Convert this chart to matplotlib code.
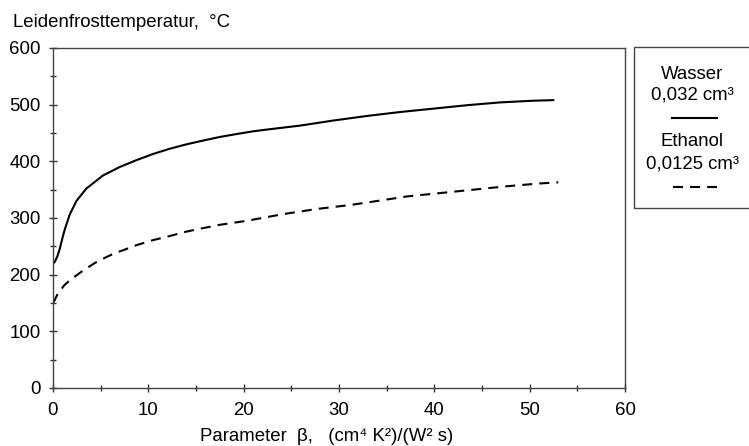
import matplotlib
matplotlib.use("Agg")
import matplotlib.pyplot as plt
from matplotlib.patches import Rectangle
from matplotlib.lines import Line2D
from matplotlib.ticker import MultipleLocator

plt.rcParams['font.family'] = ['Liberation Sans', 'DejaVu Sans']

# Data
wasser_x = [0.05, 0.2, 0.45, 0.7, 0.95, 1.22, 1.75, 2.45, 3.5, 5.24, 7.0, 8.74, 10.5, 12.2,
            14.0, 15.7, 17.5, 19.2, 21.0, 22.4, 25.9, 29.4, 32.9, 36.4, 39.9,
            43.4, 46.9, 50.4, 52.5]
wasser_y = [220, 223, 232, 245, 262, 279, 306, 330, 352, 375, 390, 402, 413, 422,
            430, 436.5, 443, 448, 453, 456, 463, 472, 480, 487, 493,
            499, 504, 507, 508]

ethanol_x = [0.0, 0.17, 0.52, 1.22, 1.92, 2.97, 3.67, 4.72, 5.6, 6.47, 7.34, 8.74,
             10.5, 12.2, 14.0, 15.7, 17.5, 20.3, 24.2, 27.7, 31.2, 33.6, 37.1,
             40.6, 44.1, 47.6, 51.1, 53.0]
ethanol_y = [150, 155, 167, 182, 192, 205, 213, 224, 231, 238, 243, 252,
             261, 268, 276, 282, 288, 295, 307, 316, 323, 329, 338,
             344, 350, 356, 361, 363]

x_ticks = [0, 10, 20, 30, 40, 50, 60]
y_ticks = [0, 100, 200, 300, 400, 500, 600]

y_title = "Leidenfrosttemperatur,  °C"
x_title = "Parameter  β,   (cm⁴ K²)/(W² s)"
legend_lines = [("Wasser", "0,032 cm³", "-"), ("Ethanol", "0,0125 cm³", "--")]

W, H = 749, 446
FS = 13.4
fig = plt.figure(figsize=(W / 100, H / 100), dpi=100)
ax = fig.add_axes([53 / W, 1 - 388 / H, (625 - 53) / W, (388 - 48) / H])

ax.plot(wasser_x, wasser_y, color='black', lw=1.5, solid_capstyle='round',
        solid_joinstyle='round')
ax.plot(ethanol_x, ethanol_y, color='black', lw=1.5, linestyle=(0, (4.8, 3.4)),
        dash_joinstyle='round')

ax.set_xlim(0, 60)
ax.set_ylim(0, 600)
ax.set_xticks(x_ticks)
ax.set_yticks(y_ticks)
ax.xaxis.set_minor_locator(MultipleLocator(5))
ax.yaxis.set_minor_locator(MultipleLocator(50))
ax.tick_params(which='major', direction='inout', length=6, width=1, color='#333333',
               labelsize=FS, pad=6)
ax.tick_params(which='minor', direction='inout', length=4.3, width=1, color='#333333')
ax.tick_params(axis='x', pad=7)
for s in ax.spines.values():
    s.set_color('#444444')
    s.set_linewidth(1)

fig.text(12.7 / W, 1 - 27 / H, y_title, fontsize=FS, ha='left', va='baseline')
fig.text(327 / W, 1 - 441 / H, x_title, fontsize=FS, ha='center', va='baseline')

# Legend box
fig.patches.append(Rectangle((634 / W, 1 - 208 / H), (770 - 634) / W, (208 - 47) / H,
                             transform=fig.transFigure, fill=False, edgecolor='#444444',
                             lw=1, clip_on=False))
cx = 692
fig.text(cx / W, 1 - 79.3 / H, legend_lines[0][0], fontsize=FS, ha='center', va='baseline')
fig.text(cx / W, 1 - 99.3 / H, legend_lines[0][1], fontsize=FS, ha='center', va='baseline')
fig.add_artist(Line2D([672 / W, 717 / W], [1 - 117.7 / H, 1 - 117.7 / H],
                      transform=fig.transFigure, color='black', lw=1.5))
fig.text(cx / W, 1 - 146 / H, legend_lines[1][0], fontsize=FS, ha='center', va='baseline')
fig.text(cx / W, 1 - 168.3 / H, legend_lines[1][1], fontsize=FS, ha='center', va='baseline')
fig.add_artist(Line2D([673 / W, 717 / W], [1 - 186.7 / H, 1 - 186.7 / H],
                      transform=fig.transFigure, color='black', lw=1.5,
                      linestyle=(0, (4.8, 3.4))))

fig.savefig("out.png", dpi=100)
